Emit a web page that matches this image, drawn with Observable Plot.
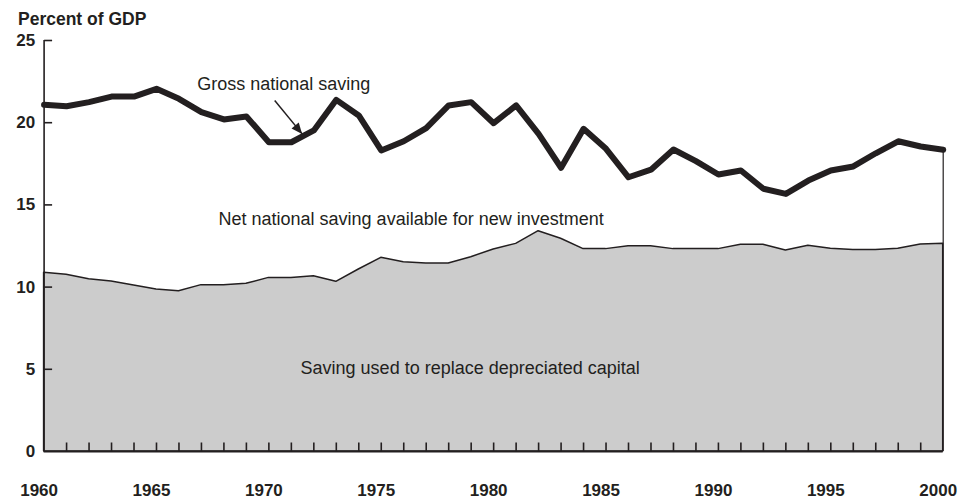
<!DOCTYPE html>
<html>
<head>
<meta charset="utf-8">
<script src="https://cdn.jsdelivr.net/npm/d3@7"></script>
<script src="https://cdn.jsdelivr.net/npm/@observablehq/plot@0.6"></script>
<style>
  body { margin: 0; background: #fff; }
  #wrap { position: relative; width: 972px; height: 500px; font-family: "Liberation Sans", Arial, Helvetica, sans-serif; color: #231f20; }
  #title { position: absolute; left: 18px; top: 11px; font-size: 17.5px; font-weight: bold; line-height: 17px; white-space: nowrap; }
  #wrap svg { position: absolute; left: 0; top: 0; }
</style>
</head>
<body>
<div id="wrap"><div id="title">Percent of GDP</div></div>
<script>
const years = [1960,1961,1962,1963,1964,1965,1966,1967,1968,1969,
               1970,1971,1972,1973,1974,1975,1976,1977,1978,1979,
               1980,1981,1982,1983,1984,1985,1986,1987,1988,1989,
               1990,1991,1992,1993,1994,1995,1996,1997,1998,1999,2000];
const grossSaving = [21.09,21.0,21.25,21.59,21.59,22.06,21.45,20.64,20.2,20.38,
                     18.81,18.81,19.53,21.39,20.44,18.31,18.87,19.67,21.05,21.25,
                     19.97,21.05,19.32,17.26,19.63,18.41,16.68,17.14,18.37,17.66,
                     16.85,17.09,15.98,15.67,16.48,17.09,17.34,18.14,18.87,18.55,18.35];
const depreciation = [10.87,10.75,10.48,10.34,10.1,9.85,9.75,10.12,10.12,10.2,
                      10.56,10.56,10.66,10.32,11.07,11.78,11.51,11.44,11.44,11.82,
                      12.29,12.63,13.4,12.94,12.31,12.31,12.49,12.49,12.31,12.31,
                      12.31,12.57,12.57,12.23,12.51,12.33,12.25,12.25,12.33,12.59,12.63];
const yTickValues = [0,5,10,15,20,25];
const xTickLabels = [1960,1965,1970,1975,1980,1985,1990,1995,2000];
const minorTickYears = years.slice(1, -1);

const labels = [
  {x: 1966.81, y: 22.35, text: "Gross national saving"},
  {x: 1967.76, y: 14.14, text: "Net national saving available for new investment"},
  {x: 1971.41, y: 5.08, text: "Saving used to replace depreciated capital"}
];
const arrows = [{x1: 1970.26, y1: 21.35, x2: 1971.48, y2: 19.32}];

const data = years.map((yr, i) => ({year: yr, gross: grossSaving[i], dep: depreciation[i]}));
const last = data[data.length - 1];

const ink = "#231f20";
const hTick = {draw(ctx) { ctx.moveTo(0, 0); ctx.lineTo(8, 0); }};
const vTick = {draw(ctx) { ctx.moveTo(0, 0); ctx.lineTo(0, -9); }};
// filled arrowhead, tip at the origin, pointing down-right along the arrow shaft
const arrowHead = {draw(ctx) { ctx.moveTo(0, 0); ctx.lineTo(-10.6, -5.4); ctx.lineTo(-3.4, -11.4); ctx.closePath(); }};

const chart = Plot.plot({
  width: 972,
  height: 500,
  marginTop: 40,
  marginBottom: 49,
  marginLeft: 43.6,
  marginRight: 29.3,
  style: {fontFamily: '"Liberation Sans", Arial, Helvetica, sans-serif', color: ink, background: "transparent"},
  x: {domain: [1960, 2000]},
  y: {domain: [0, 25]},
  marks: [
    Plot.areaY(data, {x: "year", y: "dep", fill: "#cccccc", stroke: ink, strokeWidth: 1.5, strokeLinejoin: "round"}),
    Plot.ruleX([last], {x: "year", y1: 0, y2: "gross", stroke: ink, strokeWidth: 1.2}),
    Plot.ruleX([1960], {y1: 0, y2: 25, stroke: ink, strokeWidth: 1.6}),
    Plot.ruleY([0], {x1: 1960, x2: 2000, stroke: ink, strokeWidth: 2}),
    Plot.dot(yTickValues.filter(v => v > 0), {y: d => d, frameAnchor: "left", symbol: hTick, fill: "none", stroke: ink, strokeWidth: 1.6}),
    Plot.dot(minorTickYears, {x: d => d, frameAnchor: "bottom", symbol: vTick, fill: "none", stroke: ink, strokeWidth: 1.6}),
    Plot.axisY(yTickValues, {tickSize: 0, tickPadding: 9, tickFormat: d => String(d), label: null, fontSize: 17, fontWeight: "bold"}),
    Plot.axisX(xTickLabels, {tickSize: 0, tickPadding: 32, tickFormat: d => String(d), label: null, fontSize: 17, fontWeight: "bold", dx: -5}),
    Plot.link(arrows, {x1: "x1", y1: "y1", x2: "x2", y2: "y2", stroke: ink, strokeWidth: 1.5}),
    Plot.dot(arrows, {x: "x2", y: "y2", symbol: arrowHead, fill: ink, stroke: "none"}),
    Plot.lineY(data, {x: "year", y: "gross", stroke: ink, strokeWidth: 6, strokeLinejoin: "round", strokeLinecap: "round"}),
    Plot.text(labels, {x: "x", y: "y", text: "text", textAnchor: "start", fontSize: 18, fill: ink, lineAnchor: "middle"})
  ]
});
document.getElementById("wrap").appendChild(chart);
</script>
</body>
</html>
